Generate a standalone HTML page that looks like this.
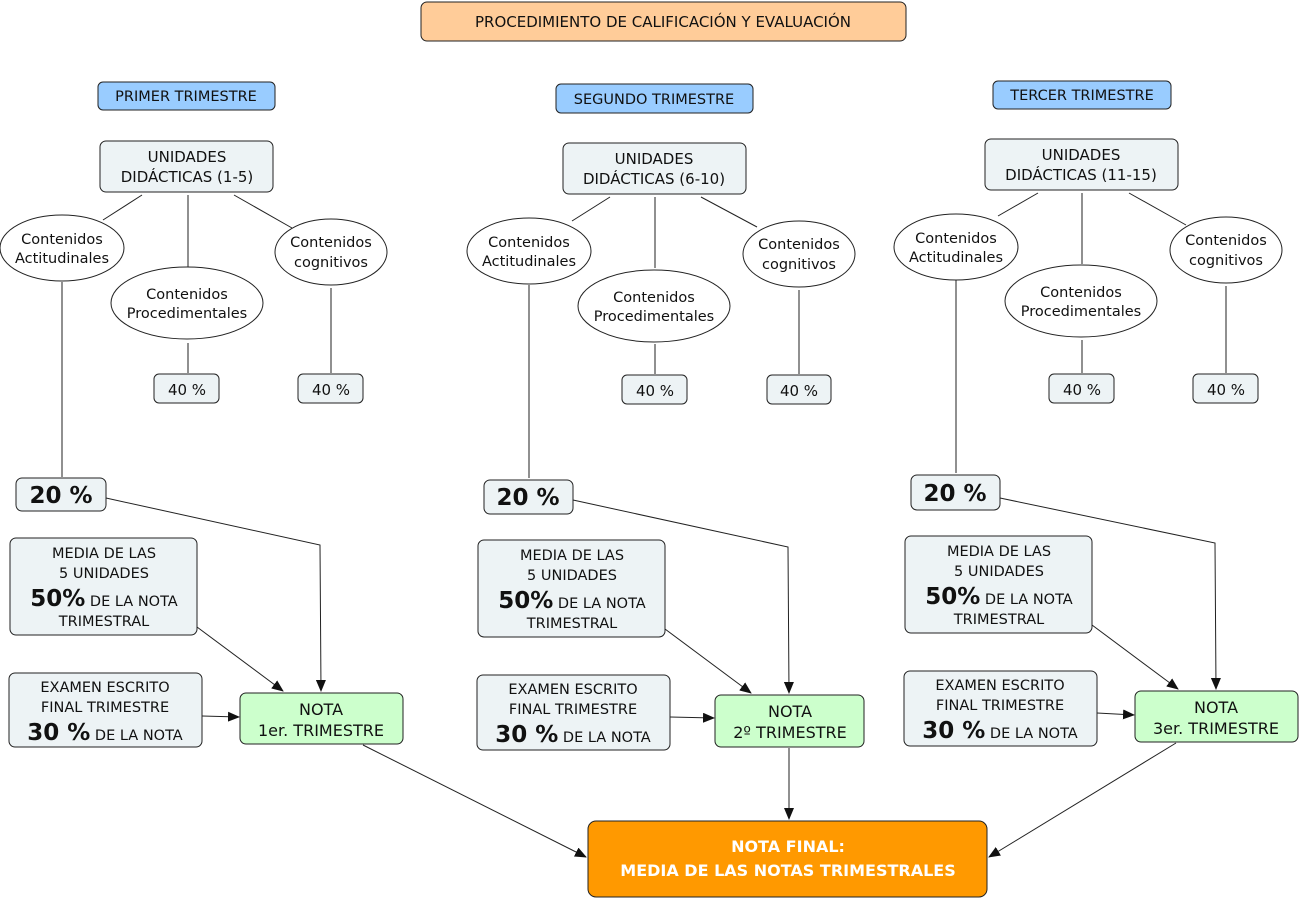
<!DOCTYPE html>
<html><head><meta charset="utf-8"><style>
body{margin:0;background:#fff}
svg{display:block;font-family:"DejaVu Sans","Liberation Sans",sans-serif}
.b{fill:#edf3f5;stroke:#222;stroke-width:1}
.e{fill:#fff;stroke:#222;stroke-width:1}
.t{font-size:15px;fill:#111;text-anchor:middle}
.s{font-size:14.5px;fill:#111;text-anchor:middle}
.big{font-size:23px;font-weight:bold}
line,polyline{stroke:#222;stroke-width:1;fill:none}
</style></head><body>
<svg width="1301" height="901" viewBox="0 0 1301 901">
<defs><marker id="a" markerWidth="12" markerHeight="10" refX="11" refY="5" orient="auto" markerUnits="userSpaceOnUse"><path d="M0,0 L12,5 L0,10z" fill="#111"/></marker></defs>
<rect x="421" y="2" width="485" height="39" rx="6" fill="#ffcc99" stroke="#222"/>
<text class="t" x="663" y="27">PROCEDIMIENTO DE CALIFICACIÓN Y EVALUACIÓN</text>

<!-- lines -->
<line x1="142" y1="195" x2="103" y2="220"/><line x1="188" y1="195" x2="188" y2="267"/><line x1="234" y1="195" x2="292" y2="228"/>
<line x1="188" y1="343" x2="188" y2="373"/><line x1="331" y1="288" x2="331" y2="373"/><line x1="62" y1="282" x2="62" y2="477"/>
<line x1="610" y1="197" x2="572" y2="221"/><line x1="655" y1="197" x2="655" y2="268"/><line x1="701" y1="197" x2="757" y2="227"/>
<line x1="655" y1="344" x2="655" y2="374"/><line x1="799" y1="290" x2="799" y2="374"/><line x1="529" y1="285" x2="529" y2="478"/>
<line x1="1038" y1="193" x2="998" y2="216"/><line x1="1082" y1="193" x2="1082" y2="264"/><line x1="1129" y1="193" x2="1186" y2="225"/>
<line x1="1082" y1="340" x2="1082" y2="373"/><line x1="1226" y1="286" x2="1226" y2="373"/><line x1="956" y1="280" x2="956" y2="473"/>

<polyline points="106,498 320,545 321,691" marker-end="url(#a)"/>
<line x1="197" y1="627" x2="283" y2="691" marker-end="url(#a)"/>
<line x1="202" y1="716" x2="239" y2="717" marker-end="url(#a)"/>
<line x1="363" y1="745" x2="586" y2="857" marker-end="url(#a)"/>
<polyline points="573,500 788,547 789,693" marker-end="url(#a)"/>
<line x1="665" y1="629" x2="751" y2="693" marker-end="url(#a)"/>
<line x1="670" y1="717" x2="714" y2="718" marker-end="url(#a)"/>
<line x1="789" y1="748" x2="789" y2="819" marker-end="url(#a)"/>
<polyline points="1000,498 1215,543 1216,689" marker-end="url(#a)"/>
<line x1="1092" y1="625" x2="1178" y2="689" marker-end="url(#a)"/>
<line x1="1097" y1="713" x2="1134" y2="715" marker-end="url(#a)"/>
<line x1="1176" y1="743" x2="989" y2="857" marker-end="url(#a)"/>

<!-- headers -->
<rect x="98" y="82" width="177" height="28" rx="5" fill="#99ccff" stroke="#222"/><text class="s" x="186" y="101">PRIMER TRIMESTRE</text>
<rect x="556" y="84" width="197" height="29" rx="5" fill="#99ccff" stroke="#222"/><text class="s" x="654" y="104">SEGUNDO TRIMESTRE</text>
<rect x="993" y="81" width="178" height="28" rx="5" fill="#99ccff" stroke="#222"/><text class="s" x="1082" y="100">TERCER TRIMESTRE</text>

<!-- col1 -->
<rect class="b" x="100" y="141" width="173" height="51" rx="6"/><text class="t" x="187" y="162">UNIDADES</text><text class="t" x="187" y="182">DIDÁCTICAS (1-5)</text>
<ellipse class="e" cx="62" cy="248" rx="62" ry="33"/><text class="s" x="62" y="244">Contenidos</text><text class="s" x="62" y="263">Actitudinales</text>
<ellipse class="e" cx="187" cy="303" rx="76" ry="36"/><text class="s" x="187" y="299">Contenidos</text><text class="s" x="187" y="318">Procedimentales</text>
<ellipse class="e" cx="331" cy="252" rx="56" ry="33"/><text class="s" x="331" y="247">Contenidos</text><text class="s" x="331" y="267">cognitivos</text>
<rect class="b" x="154" y="374" width="65" height="29" rx="5"/><text class="t" x="187" y="395">40 %</text>
<rect class="b" x="298" y="374" width="65" height="29" rx="5"/><text class="t" x="331" y="395">40 %</text>
<rect class="b" x="16" y="478" width="90" height="33" rx="6"/><text class="t big" x="61" y="503">20 %</text>
<rect class="b" x="10" y="538" width="187" height="97" rx="6"/>
<text class="s" x="104" y="558">MEDIA DE LAS</text><text class="s" x="104" y="578">5 UNIDADES</text>
<text class="s" x="104" y="606"><tspan class="big">50%</tspan> DE LA NOTA</text><text class="s" x="104" y="626">TRIMESTRAL</text>
<rect class="b" x="9" y="673" width="193" height="74" rx="6"/>
<text class="s" x="105" y="692">EXAMEN ESCRITO</text><text class="s" x="105" y="712">FINAL TRIMESTRE</text>
<text class="s" x="105" y="740"><tspan class="big">30 %</tspan> DE LA NOTA</text>
<rect x="240" y="693" width="163" height="51" rx="6" fill="#ccffcc" stroke="#222"/><text class="t" x="321" y="715" style="font-size:16px">NOTA</text><text class="t" x="321" y="736" style="font-size:16px">1er. TRIMESTRE</text>

<!-- col2 -->
<rect class="b" x="563" y="143" width="183" height="51" rx="6"/><text class="t" x="654" y="164">UNIDADES</text><text class="t" x="654" y="184">DIDÁCTICAS (6-10)</text>
<ellipse class="e" cx="529" cy="251" rx="62" ry="33"/><text class="s" x="529" y="247">Contenidos</text><text class="s" x="529" y="266">Actitudinales</text>
<ellipse class="e" cx="654" cy="306" rx="76" ry="36"/><text class="s" x="654" y="302">Contenidos</text><text class="s" x="654" y="321">Procedimentales</text>
<ellipse class="e" cx="799" cy="254" rx="56" ry="33"/><text class="s" x="799" y="249">Contenidos</text><text class="s" x="799" y="269">cognitivos</text>
<rect class="b" x="622" y="375" width="65" height="29" rx="5"/><text class="t" x="655" y="396">40 %</text>
<rect class="b" x="767" y="375" width="64" height="29" rx="5"/><text class="t" x="799" y="396">40 %</text>
<rect class="b" x="484" y="480" width="89" height="34" rx="6"/><text class="t big" x="528" y="505">20 %</text>
<rect class="b" x="478" y="540" width="187" height="97" rx="6"/>
<text class="s" x="572" y="560">MEDIA DE LAS</text><text class="s" x="572" y="580">5 UNIDADES</text>
<text class="s" x="572" y="608"><tspan class="big">50%</tspan> DE LA NOTA</text><text class="s" x="572" y="628">TRIMESTRAL</text>
<rect class="b" x="477" y="675" width="193" height="75" rx="6"/>
<text class="s" x="573" y="694">EXAMEN ESCRITO</text><text class="s" x="573" y="714">FINAL TRIMESTRE</text>
<text class="s" x="573" y="742"><tspan class="big">30 %</tspan> DE LA NOTA</text>
<rect x="715" y="695" width="149" height="52" rx="6" fill="#ccffcc" stroke="#222"/><text class="t" x="790" y="717" style="font-size:16px">NOTA</text><text class="t" x="790" y="738" style="font-size:16px">2º TRIMESTRE</text>

<!-- col3 -->
<rect class="b" x="985" y="139" width="193" height="51" rx="6"/><text class="t" x="1081" y="160">UNIDADES</text><text class="t" x="1081" y="180">DIDÁCTICAS (11-15)</text>
<ellipse class="e" cx="956" cy="247" rx="62" ry="33"/><text class="s" x="956" y="243">Contenidos</text><text class="s" x="956" y="262">Actitudinales</text>
<ellipse class="e" cx="1081" cy="301" rx="76" ry="36"/><text class="s" x="1081" y="297">Contenidos</text><text class="s" x="1081" y="316">Procedimentales</text>
<ellipse class="e" cx="1226" cy="250" rx="56" ry="33"/><text class="s" x="1226" y="245">Contenidos</text><text class="s" x="1226" y="265">cognitivos</text>
<rect class="b" x="1049" y="374" width="65" height="29" rx="5"/><text class="t" x="1082" y="395">40 %</text>
<rect class="b" x="1193" y="374" width="65" height="29" rx="5"/><text class="t" x="1226" y="395">40 %</text>
<rect class="b" x="911" y="475" width="89" height="35" rx="6"/><text class="t big" x="955" y="501">20 %</text>
<rect class="b" x="905" y="536" width="187" height="97" rx="6"/>
<text class="s" x="999" y="556">MEDIA DE LAS</text><text class="s" x="999" y="576">5 UNIDADES</text>
<text class="s" x="999" y="604"><tspan class="big">50%</tspan> DE LA NOTA</text><text class="s" x="999" y="624">TRIMESTRAL</text>
<rect class="b" x="904" y="671" width="193" height="75" rx="6"/>
<text class="s" x="1000" y="690">EXAMEN ESCRITO</text><text class="s" x="1000" y="710">FINAL TRIMESTRE</text>
<text class="s" x="1000" y="738"><tspan class="big">30 %</tspan> DE LA NOTA</text>
<rect x="1135" y="691" width="163" height="51" rx="6" fill="#ccffcc" stroke="#222"/><text class="t" x="1216" y="713" style="font-size:16px">NOTA</text><text class="t" x="1216" y="734" style="font-size:16px">3er. TRIMESTRE</text>

<!-- final -->
<rect x="588" y="821" width="399" height="76" rx="8" fill="#ff9900" stroke="#222"/>
<text class="t" x="788" y="852" style="fill:#fff;font-weight:bold;font-size:16px">NOTA FINAL:</text>
<text class="t" x="788" y="876" style="fill:#fff;font-weight:bold;font-size:16px">MEDIA DE LAS NOTAS TRIMESTRALES</text>
</svg>
</body></html>
